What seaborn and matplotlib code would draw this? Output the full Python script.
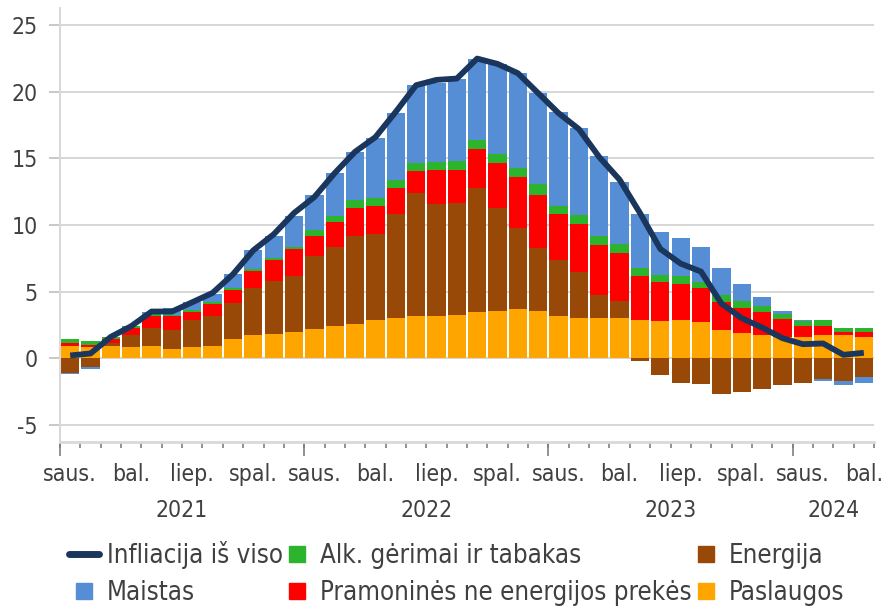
import numpy as np
import matplotlib
matplotlib.use('Agg')
import matplotlib.pyplot as plt
import matplotlib.transforms as mtransforms
from matplotlib.lines import Line2D
import seaborn as sns

# DATA (pp contributions, 2021-01 .. 2024-04)
menesiai = ['saus.', 'bal.', 'liep.', 'spal.'] * 3 + ['saus.', 'bal.']
metai = ['2021', '2022', '2023', '2024']

paslaugos = [0.9, 0.8, 0.9, 0.8, 0.9, 0.7, 0.8, 0.9, 1.4, 1.75, 1.85, 1.95,
             2.2, 2.45, 2.6, 2.85, 3.0, 3.2, 3.2, 3.25, 3.45, 3.55, 3.7, 3.55,
             3.2, 3.0, 3.0, 3.05, 2.9, 2.8, 2.9, 2.7, 2.1, 1.9, 1.7, 1.6,
             1.6, 1.7, 1.7, 1.55]
energija = [-1.1, -0.7, 0.25, 0.9, 1.4, 1.4, 2.1, 2.3, 2.75, 3.55, 3.95, 4.25,
            5.5, 5.9, 6.6, 6.5, 7.8, 9.2, 8.4, 8.4, 9.35, 7.7, 6.1, 4.7,
            4.2, 3.5, 1.75, 1.25, -0.2, -1.3, -1.9, -1.95, -2.7, -2.55, -2.3, -2.05,
            -1.9, -1.6, -1.7, -1.45]
pramonines = [0.25, 0.15, 0.3, 0.6, 0.9, 1.05, 0.6, 0.9, 1.0, 1.25, 1.6, 2.0,
              1.5, 1.85, 2.1, 2.1, 2.0, 1.65, 2.5, 2.5, 2.9, 3.4, 3.8, 4.0,
              3.4, 3.6, 3.75, 3.6, 3.3, 2.9, 2.7, 2.55, 2.15, 1.9, 1.75, 1.35,
              0.8, 0.75, 0.3, 0.4]
alkoholis = [0.25, 0.3, 0.1, 0.1, 0.15, 0.1, 0.15, 0.15, 0.15, 0.15, 0.15, 0.15,
             0.45, 0.5, 0.55, 0.55, 0.55, 0.6, 0.6, 0.65, 0.65, 0.7, 0.7, 0.8,
             0.65, 0.65, 0.7, 0.65, 0.55, 0.55, 0.55, 0.5, 0.5, 0.5, 0.45, 0.4,
             0.4, 0.4, 0.3, 0.3]
maistas = [-0.1, -0.15, 0.0, 0.0, 0.15, 0.5, 0.55, 0.6, 1.05, 1.4, 1.65, 2.35,
           2.6, 3.2, 3.6, 4.55, 5.05, 5.85, 6.0, 6.2, 6.1, 6.75, 7.1, 6.9,
           7.05, 6.5, 6.0, 4.7, 4.05, 3.2, 2.9, 2.6, 2.0, 1.3, 0.7, 0.2,
           0.1, -0.1, -0.3, -0.4]
infliacija = [0.2, 0.35, 1.6, 2.4, 3.5, 3.5, 4.2, 4.9, 6.3, 8.1, 9.3, 10.9,
              12.1, 13.9, 15.5, 16.6, 18.5, 20.5, 20.9, 21.0, 22.5, 22.1, 21.4, 19.9,
              18.4, 17.2, 15.1, 13.4, 10.9, 8.2, 7.1, 6.5, 4.1, 3.0, 2.3, 1.5,
              1.05, 1.1, 0.25, 0.4]

serijos = [
    ('Paslaugos', paslaugos, '#FFA500'),
    ('Energija', energija, '#984807'),
    ('Pramoninės ne energijos prekės', pramonines, '#FF0000'),
    ('Alk. gėrimai ir tabakas', alkoholis, '#2CB42C'),
    ('Maistas', maistas, '#558ED5'),
]

sns.set_theme(style='white')
plt.rcParams['font.family'] = ['DejaVu Sans']
plt.rcParams['font.stretch'] = 'condensed'
plt.rcParams['axes.unicode_minus'] = False
tekstas = '#404040'
fs = 16.5
fs_leg = 18.5

fig = plt.figure(figsize=(8.86, 6.08), dpi=100)
ax = fig.add_axes([60 / 886, 1 - 442 / 608, (874 - 60) / 886, (442 - 8) / 608])

x = np.arange(len(infliacija))
pos_bottom = np.zeros(len(x))
neg_bottom = np.zeros(len(x))
for name, vals, col in serijos:
    v = np.array(vals)
    b = np.where(v >= 0, pos_bottom, neg_bottom)
    ax.bar(x, v, bottom=b, width=0.9, color=col, linewidth=0, zorder=2)
    pos_bottom += np.clip(v, 0, None)
    neg_bottom += np.clip(v, None, 0)

sns.lineplot(x=x, y=infliacija, ax=ax, color='#1B365D', lw=4.2, zorder=3,
             solid_capstyle='butt')

ax.set_xlim(-0.5, len(x) - 0.5)
ax.set_ylim(-6.3, 26.3)
ax.set_yticks(range(-5, 30, 5))
ax.set_yticklabels([str(t) for t in range(-5, 30, 5)])
ax.yaxis.grid(True, color='#d0d0d0', lw=1.2)
ax.set_axisbelow(True)
ax.tick_params(axis='y', length=8, width=1.2, color='#bfbfbf', pad=8,
               labelsize=fs, labelcolor=tekstas, left=True)

ax.set_xticks(np.arange(0, len(x), 3))
ax.set_xticklabels(menesiai)
ax.set_xticks(np.arange(-0.5, len(x), 1), minor=True)
ax.tick_params(axis='x', which='major', length=0, pad=15, labelsize=fs,
               labelcolor=tekstas)
ax.tick_params(axis='x', which='minor', length=4, width=1.2, color='#7f7f7f',
               bottom=True)

sec = ax.secondary_xaxis('bottom')
sec.set_xticks([-0.5, 11.5, 23.5, 35.5])
sec.tick_params(length=10, width=1.2, color='#7f7f7f', labelbottom=False)
sec.spines['bottom'].set_visible(False)

trans = mtransforms.blended_transform_factory(ax.transData, ax.transAxes)
for lbl, c in zip(metai, [5.5, 17.5, 29.5, 37.5]):
    ax.text(c, -0.157, lbl, transform=trans, ha='center', va='center',
            fontsize=fs, color=tekstas)

for s in ['top', 'right']:
    ax.spines[s].set_visible(False)
ax.spines['left'].set_color('#d9d9d9')
ax.spines['left'].set_linewidth(1.5)
ax.spines['bottom'].set_color('#d9d9d9')
ax.spines['bottom'].set_linewidth(2)

spalvos = {n: c for n, _, c in serijos}
def kvadratas(n):
    return Line2D([], [], marker='s', ls='none', markersize=11.5, color=spalvos[n])

handles = [Line2D([], [], color='#1B365D', lw=5), kvadratas('Maistas'),
           kvadratas('Alk. gėrimai ir tabakas'), kvadratas('Pramoninės ne energijos prekės'),
           kvadratas('Energija'), kvadratas('Paslaugos')]
labels = ['Infliacija iš viso', 'Maistas', 'Alk. gėrimai ir tabakas',
          'Pramoninės ne energijos prekės', 'Energija', 'Paslaugos']
fig.legend(handles, labels, ncol=3, loc='center left',
           bbox_to_anchor=(69 / 886, 1 - 573.5 / 608), frameon=False,
           fontsize=fs_leg, labelcolor=tekstas, handlelength=1.17,
           handletextpad=0.31, columnspacing=-0.04, labelspacing=0.45,
           borderpad=0, borderaxespad=0)

fig.savefig('out.png', dpi=100)
